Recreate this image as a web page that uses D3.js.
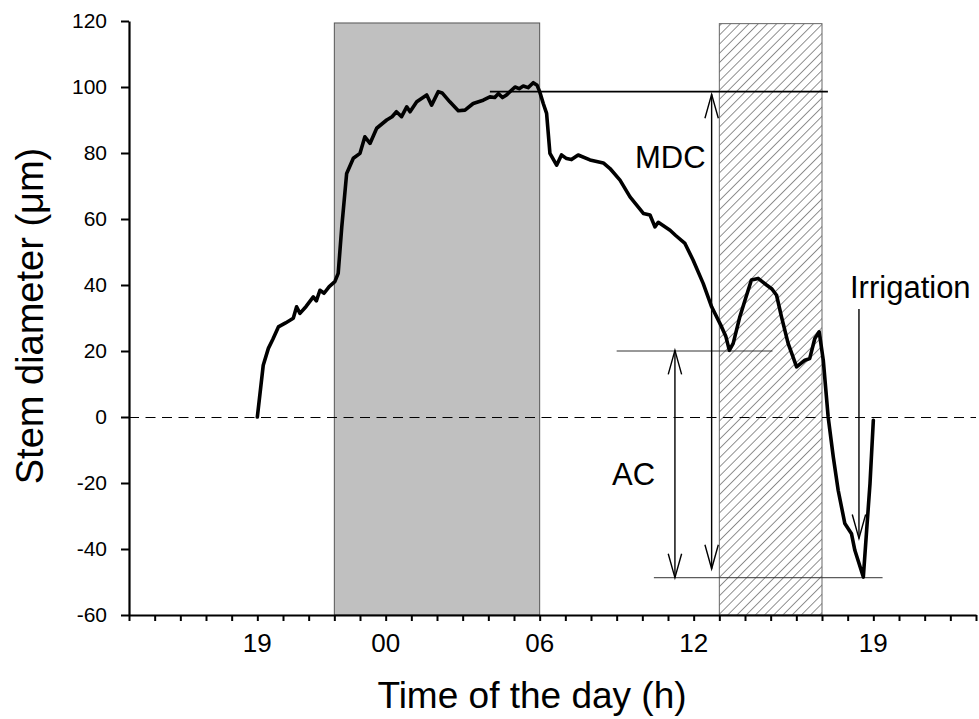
<!DOCTYPE html>
<html lang="en">
<head>
<meta charset="utf-8">
<script src="https://d3js.org/d3.v7.min.js"></script>
<style>
  body { margin: 0; background: #fff; }
  text { font-family: "Liberation Sans", Arial, sans-serif; fill: #000; }
</style>
</head>
<body>
<script>
// hours counted from midnight of day 1 (24 = 00 h next day)
const timeH = [19.0, 19.23, 19.43, 19.6, 19.82, 20.1, 20.4, 20.53, 20.66, 20.9, 21.18, 21.3, 21.44, 21.6, 21.8,
  22.02, 22.15, 22.29, 22.48, 22.74, 23.0, 23.19, 23.39, 23.65, 24.04, 24.25, 24.42, 24.62, 24.82, 24.95,
  25.21, 25.6, 25.79, 26.05, 26.2, 26.5, 26.83, 27.09, 27.41, 27.8, 28.06, 28.25, 28.39, 28.55, 28.71,
  29.04, 29.2, 29.36, 29.55, 29.75, 29.9, 30.0, 30.14, 30.27, 30.4, 30.66, 30.85, 31.05, 31.24, 31.5,
  31.96, 32.48, 32.74, 33.13, 33.52, 33.78, 34.04, 34.3, 34.49, 34.62, 35.08, 35.3, 35.66, 35.98, 36.37,
  36.7, 37.09, 37.25, 37.39, 37.54, 37.8, 38.0, 38.25, 38.51, 38.84, 39.05, 39.23, 39.42, 39.68, 40.01,
  40.33, 40.52, 40.72, 40.89, 41.05, 41.24, 41.44, 41.63, 41.89, 42.15, 42.28, 42.61, 42.74, 42.87, 43.0];
const diameter = [0, 15.7, 20.8, 23.5, 27.3, 28.5, 29.9, 33.4, 31.4, 33.5, 36.4, 35.2, 38.4, 37.5, 39.5,
  41.0, 43.5, 57.6, 73.8, 78.4, 79.9, 84.9, 82.9, 87.5, 90, 91, 92.5, 91, 94, 92.5,
  95.5, 97.6, 94.5, 98.6, 98.2, 95.5, 92.8, 93, 95, 96, 97, 96.8, 98, 96.8, 97.6,
  100, 99.5, 100.3, 99.8, 101.3, 100.5, 98.6, 95, 92, 79.9, 76.3, 79.4, 78.3, 78, 79.4,
  77.9, 77, 75.3, 71.8, 66.7, 64.2, 61.7, 61.2, 57.6, 59.0, 56.6, 55.0, 52.6, 47.5, 40.5,
  33.4, 27.3, 24.5, 20.2, 22.3, 30.4, 35.4, 41.5, 42, 40, 38.8, 36.9, 30.4, 22.3, 15.2,
  17.2, 17.7, 23.8, 25.8, 17.2, 0, -12.1, -22.2, -32.3, -35.4, -40.4, -48.5, -34.3, -20.2, -1];

const yTicks = [-60, -40, -20, 0, 20, 40, 60, 80, 100, 120];
const xTickHours = d3.range(14, 48);
const xLabelHours = [19, 24, 30, 36, 43];
const xLabelText = ["19", "00", "06", "12", "19"];

// shaded periods [start, end, top]
const nightBox = [22, 30, 119.4];
const stressBox = [37, 41, 119.2];

// reference lines [value, from h, to h]
const maxLine = [98.6, 28.06, 41.23];
const acLine = [20, 33.0, 39.07];
const minLine = [-48.7, 34.45, 43.36];

// arrows [x h, from, to]
const mdcArrow = [36.7, 97.8, -46];
const acArrow = [35.27, 20.2, -48.7];
const irrArrow = [42.44, 32.7, -36.8];

const width = 979, height = 719;
const margin = { top: 21, right: 3, bottom: 104, left: 129 };

const svg = d3.select("body").append("svg")
  .attr("width", width).attr("height", height);

const x = d3.scaleLinear().domain([14, 47]).range([margin.left, width - margin.right]);
const y = d3.scaleLinear().domain([-60, 120]).range([height - margin.bottom, margin.top]);

const defs = svg.append("defs");
const pat = defs.append("pattern")
  .attr("id", "hatch").attr("patternUnits", "userSpaceOnUse")
  .attr("width", 6.5).attr("height", 6.5)
  .attr("patternTransform", "rotate(45)");
pat.append("rect").attr("width", 6.5).attr("height", 6.5).attr("fill", "#fff");
pat.append("line").attr("x1", 0).attr("y1", 0).attr("x2", 0).attr("y2", 6.5)
  .attr("stroke", "#222").attr("stroke-width", 1);

// night box
svg.append("rect")
  .attr("x", x(nightBox[0])).attr("y", y(nightBox[2]))
  .attr("width", x(nightBox[1]) - x(nightBox[0]))
  .attr("height", y(-60) - y(nightBox[2]))
  .attr("fill", "#c0c0c0").attr("stroke", "#555").attr("stroke-width", 1);

// hatched box
svg.append("rect")
  .attr("x", x(stressBox[0])).attr("y", y(stressBox[2]))
  .attr("width", x(stressBox[1]) - x(stressBox[0]))
  .attr("height", y(-60) - y(stressBox[2]))
  .attr("fill", "url(#hatch)").attr("stroke", "#666").attr("stroke-width", 1);

// zero line
svg.append("line")
  .attr("x1", x(14)).attr("x2", x(47)).attr("y1", Math.round(y(0)) + 0.5).attr("y2", Math.round(y(0)) + 0.5)
  .attr("stroke", "#000").attr("stroke-width", 1).attr("stroke-dasharray", "10,6.5");

// reference lines
svg.append("line")
  .attr("x1", x(maxLine[1])).attr("x2", x(maxLine[2]))
  .attr("y1", y(maxLine[0])).attr("y2", y(maxLine[0]))
  .attr("stroke", "#000").attr("stroke-width", 1.6);
[acLine, minLine].forEach(function (l) {
  svg.append("line")
    .attr("x1", x(l[1])).attr("x2", x(l[2]))
    .attr("y1", y(l[0])).attr("y2", y(l[0]))
    .attr("stroke", "#333").attr("stroke-width", 1);
});

function arrowHead(px, py, dir) {
  // dir: -1 points up, 1 points down
  const len = 24, half = 6.7;
  svg.append("path")
    .attr("d", "M" + (px - half) + "," + (py - dir * len) + "L" + px + "," + py + "L" + (px + half) + "," + (py - dir * len))
    .attr("fill", "none").attr("stroke", "#000").attr("stroke-width", 1.4);
}

function arrow(a, both) {
  const px = x(a[0]);
  svg.append("line")
    .attr("x1", px).attr("x2", px).attr("y1", y(a[1])).attr("y2", y(a[2]))
    .attr("stroke", "#000").attr("stroke-width", 1.4);
  arrowHead(px, y(a[2]), 1);
  if (both) arrowHead(px, y(a[1]), -1);
}
arrow(mdcArrow, true);
arrow(acArrow, true);
arrow(irrArrow, false);

// data line
const pts = timeH.map(function (t, i) { return [t, diameter[i]]; });
svg.append("path")
  .datum(pts)
  .attr("d", d3.line().x(function (d) { return x(d[0]); }).y(function (d) { return y(d[1]); }))
  .attr("fill", "none").attr("stroke", "#000").attr("stroke-width", 3.6)
  .attr("stroke-linejoin", "round").attr("stroke-linecap", "round");

// axes
const xAxis = svg.append("g")
  .attr("transform", "translate(0," + y(-60) + ")")
  .call(d3.axisBottom(x).tickValues(xTickHours).tickSize(6).tickSizeOuter(0).tickFormat(""));
xAxis.select(".domain").attr("stroke-width", 2.2);
xAxis.selectAll(".tick line").attr("stroke-width", 2);

svg.append("g").selectAll("text")
  .data(xLabelHours)
  .enter().append("text")
  .attr("x", function (d) { return x(d); })
  .attr("y", 652)
  .attr("text-anchor", "middle")
  .style("font-size", "26px")
  .text(function (d, i) { return xLabelText[i]; });

const yAxis = svg.append("g")
  .attr("transform", "translate(" + x(14) + ",0)")
  .call(d3.axisLeft(y).tickValues(yTicks).tickSize(8).tickSizeOuter(0).tickPadding(14)
    .tickFormat(function (d) { return String(d); }));
yAxis.select(".domain").attr("stroke-width", 2.2);
yAxis.selectAll(".tick line").attr("stroke-width", 2);
yAxis.selectAll(".tick text").style("font-size", "21px")
  .style("font-family", "'Liberation Sans', Arial, sans-serif").attr("fill", "#000");

// axis titles
svg.append("text")
  .attr("x", 532).attr("y", 708)
  .attr("text-anchor", "middle")
  .style("font-size", "37px")
  .text("Time of the day (h)");

svg.append("text")
  .attr("transform", "translate(43,316) rotate(-90)")
  .attr("text-anchor", "middle")
  .style("font-size", "38px")
  .text("Stem diameter (\u03bcm)");

// annotations
svg.append("text").attr("x", 635).attr("y", 168).style("font-size", "31px").text("MDC");
svg.append("text").attr("x", 612).attr("y", 485).style("font-size", "31px").text("AC");
svg.append("text").attr("x", 850).attr("y", 298).style("font-size", "31px").text("Irrigation");
</script>
</body>
</html>
